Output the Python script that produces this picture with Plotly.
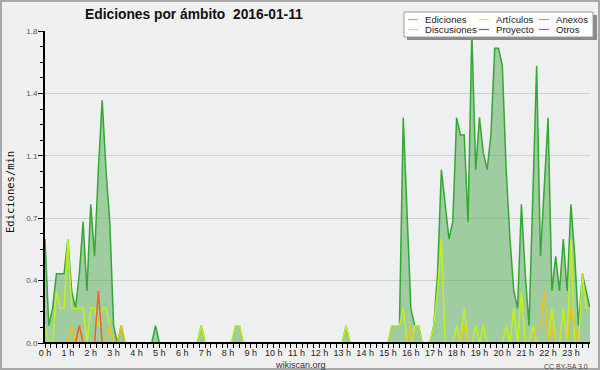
import plotly.graph_objects as go

# ---- data (10-minute bins, edits per minute) ----
ediciones = [
    0.6, 0.1, 0.2, 0.4, 0.4, 0.4, 0.6, 0.3, 0.2, 0.4, 0.7, 0.3,
    0.8, 0.5, 1.0, 1.4, 1.0, 0.7, 0.1, 0, 0.1, 0, 0, 0,
    0, 0, 0, 0, 0, 0.1, 0, 0, 0, 0, 0, 0,
    0, 0, 0, 0, 0, 0.1, 0, 0, 0, 0, 0, 0,
    0, 0, 0.1, 0.1, 0, 0, 0, 0, 0, 0, 0, 0,
    0, 0, 0, 0, 0, 0, 0, 0, 0, 0, 0, 0,
    0, 0, 0, 0, 0, 0, 0, 0.1, 0, 0, 0, 0,
    0, 0, 0, 0, 0, 0, 0, 0.1, 0.1, 0.1, 1.3, 0.7,
    0.2, 0.1, 0.1, 0, 0, 0, 0.1, 0.4, 1.0, 0.8, 0.6, 0.7,
    1.3, 1.2, 1.2, 0.7, 1.8, 1.0, 1.3, 1.1, 1.0, 1.2, 1.7, 1.7,
    1.6, 1.0, 0.6, 0.3, 0.2, 0.8, 0.4, 0.1, 0.9, 1.6, 0.5, 0.9,
    1.3, 0.3, 0.5, 0.3, 0.6, 0.3, 0.8, 0.5, 0.1, 0.4, 0.3, 0.2,
]
articulos = [
    0.1, 0, 0, 0.3, 0.2, 0.2, 0.6, 0.2, 0.2, 0.2, 0.2, 0,
    0.2, 0.2, 0.1, 0.2, 0.2, 0.1, 0, 0, 0, 0, 0, 0,
    0, 0, 0, 0, 0, 0, 0, 0, 0, 0, 0, 0,
    0, 0, 0, 0, 0, 0.1, 0, 0, 0, 0, 0, 0,
    0, 0, 0.1, 0.1, 0, 0, 0, 0, 0, 0, 0, 0,
    0, 0, 0, 0, 0, 0, 0, 0, 0, 0, 0, 0,
    0, 0, 0, 0, 0, 0, 0, 0.1, 0, 0, 0, 0,
    0, 0, 0, 0, 0, 0, 0, 0.1, 0.1, 0.1, 0.2, 0,
    0, 0.1, 0.1, 0, 0, 0, 0.1, 0.3, 0.6, 0, 0, 0,
    0.1, 0, 0.2, 0, 0, 0.1, 0, 0.1, 0, 0, 0, 0,
    0, 0.1, 0, 0.2, 0, 0.3, 0, 0, 0.1, 0, 0, 0,
    0, 0.2, 0, 0, 0.2, 0, 0.6, 0, 0, 0.4, 0.2, 0.2,
]
discusiones = [
    0, 0, 0, 0, 0, 0, 0, 0.1, 0, 0, 0, 0,
    0, 0, 0, 0, 0, 0.1, 0, 0, 0.1, 0, 0, 0,
    0, 0, 0, 0, 0, 0, 0, 0, 0, 0, 0, 0,
    0, 0, 0, 0, 0, 0, 0, 0, 0, 0, 0, 0,
    0, 0, 0, 0, 0, 0, 0, 0, 0, 0, 0, 0,
    0, 0, 0, 0, 0, 0, 0, 0, 0, 0, 0, 0,
    0, 0, 0, 0, 0, 0, 0, 0, 0, 0, 0, 0,
    0, 0, 0, 0, 0, 0, 0, 0, 0, 0, 0, 0,
    0.1, 0, 0, 0, 0, 0, 0, 0, 0, 0, 0, 0,
    0, 0, 0.1, 0, 0, 0, 0, 0, 0, 0, 0, 0,
    0, 0, 0, 0, 0, 0, 0, 0, 0, 0.1, 0.1, 0.3,
    0, 0.1, 0, 0, 0, 0, 0.2, 0.1, 0, 0, 0, 0,
]
anexos = [
    0, 0, 0, 0, 0, 0, 0, 0, 0, 0.1, 0, 0,
    0, 0, 0.3, 0, 0, 0, 0, 0, 0, 0, 0, 0,
] + [0] * 120
proyecto = [0] * 144
otros = [0] * 144

hours = [i / 6 for i in range(144)]
hour_ticks = list(range(24))
hour_labels = [f"{h} h" for h in hour_ticks]
y_ticks = [0, 0.36, 0.72, 1.08, 1.44, 1.8]
y_labels = ["0.0", "0.4", "0.7", "1.1", "1.4", "1.8"]

# drawing order: filled total first, then the category lines on top
series = [
    ("Ediciones", ediciones, "#33a833"),
    ("Proyecto", proyecto, "#555555"),
    ("Otros", otros, "#9933ff"),
    ("Artículos", articulos, "#c4ef1c"),
    ("Discusiones", discusiones, "#f2c01a"),
    ("Anexos", anexos, "#f4601c"),
]

fig = go.Figure()
for name, vals, col in series:
    kw = {}
    if name == "Ediciones":
        kw = dict(fill="tozeroy", fillcolor="rgba(80,170,80,0.5)")
    fig.add_trace(go.Scatter(x=hours, y=vals, mode="lines", name=name,
                             line=dict(color=col, width=1.5), showlegend=False,
                             hoverinfo="skip", **kw))

L, R, T, B = 45, 590, 31, 343
W, H = R - L, B - T
def pxx(x):
    return (x - L) / W
def pxy(y):
    return (B - y) / H

shapes = []
annotations = []
# image border
shapes.append(dict(type="rect", xref="paper", yref="paper", x0=pxx(1), x1=pxx(599), y0=pxy(1), y1=pxy(369),
                   line=dict(color="#a8a8a8", width=2), fillcolor="rgba(0,0,0,0)", layer="below"))
# bottom axis rule drawn over the baseline
shapes.append(dict(type="line", xref="paper", yref="paper", x0=0, x1=1, y0=0, y1=0,
                   line=dict(color="black", width=2), layer="above"))
# legend box with shadow
shapes.append(dict(type="rect", xref="paper", yref="paper", x0=pxx(407), x1=pxx(597), y0=pxy(15), y1=pxy(40),
                   line=dict(width=0), fillcolor="#8a8a8a", layer="above"))
shapes.append(dict(type="rect", xref="paper", yref="paper", x0=pxx(404), x1=pxx(593), y0=pxy(12), y1=pxy(37),
                   line=dict(color="#9a9a9a", width=1), fillcolor="#ffffff", layer="above"))
legend_items = [
    ("Ediciones", "#88cc88", 408, 19.5),
    ("Artículos", "#ccee66", 479, 19.5),
    ("Anexos", "#f08a5a", 539, 19.5),
    ("Discusiones", "#ffcc44", 408, 29.5),
    ("Proyecto", "#666666", 479, 29.5),
    ("Otros", "#a050ff", 539, 29.5),
]
for name, col, lx, ly in legend_items:
    shapes.append(dict(type="line", xref="paper", yref="paper", x0=pxx(lx), x1=pxx(lx + 10),
                       y0=pxy(ly), y1=pxy(ly), line=dict(color=col, width=1.2), layer="above"))
    annotations.append(dict(text=name, xref="paper", yref="paper", x=pxx(lx + 15), y=pxy(ly),
                            xanchor="left", yanchor="middle", showarrow=False,
                            font=dict(family="Liberation Sans", size=9.6, color="#222222")))

annotations.append(dict(text="Ediciones/min", xref="paper", yref="paper", x=pxx(10), y=pxy(192),
                        textangle=-90, xanchor="center", yanchor="middle", showarrow=False,
                        font=dict(family="DejaVu Sans Mono", size=10.5, color="#111111")))
annotations.append(dict(text="wikiscan.org", xref="paper", yref="paper", x=pxx(300.5), y=pxy(364.5),
                        xanchor="center", yanchor="middle", showarrow=False,
                        font=dict(family="Liberation Sans", size=9, color="#333333")))
annotations.append(dict(text="CC BY-SA 3.0", xref="paper", yref="paper", x=pxx(590), y=pxy(366),
                        xanchor="right", yanchor="middle", showarrow=False,
                        font=dict(family="Liberation Sans", size=7, color="#444444")))

fig.update_layout(
    width=600, height=370,
    margin=dict(l=L, r=600 - R, t=T, b=370 - B, pad=0),
    paper_bgcolor="#f0f0f0", plot_bgcolor="#eeeff1",
    title=dict(text="<b>Ediciones por ámbito  2016-01-11</b>", x=85 / 600, xanchor="left",
               y=1 - 14.5 / 370, yanchor="middle",
               font=dict(family="Liberation Sans", size=13.8, color="#111111")),
    shapes=shapes, annotations=annotations, showlegend=False,
)
fig.update_xaxes(range=[0, 143 / 6], tickmode="array", tickvals=hour_ticks, ticktext=hour_labels,
                 showgrid=False, zeroline=False, showline=True, linecolor="black", linewidth=1,
                 ticks="outside", ticklen=4, tickwidth=1, tickcolor="black", ticklabelstandoff=-3,
                 tickfont=dict(family="Liberation Sans", size=9, color="#222222"),
                 minor=dict(dtick=0.25, tick0=0, ticks="outside", ticklen=4, tickwidth=1,
                            tickcolor="black", showgrid=False))
fig.update_yaxes(range=[0, 1.8], tickmode="array", tickvals=y_ticks, ticktext=y_labels,
                 showgrid=True, gridcolor="#cfcfcf", gridwidth=1, zeroline=False,
                 showline=True, linecolor="black", linewidth=2,
                 ticks="outside", ticklen=5, tickwidth=1, tickcolor="black", ticklabelstandoff=-1,
                 tickfont=dict(family="Liberation Sans", size=8, color="#555555"),
                 minor=dict(dtick=0.09, tick0=0, ticks="outside", ticklen=3, tickwidth=1,
                            tickcolor="black", showgrid=False))

fig.write_html("out.html", config={"displayModeBar": False},
               post_script="document.body.style.margin='0';document.body.style.overflow='hidden';")
